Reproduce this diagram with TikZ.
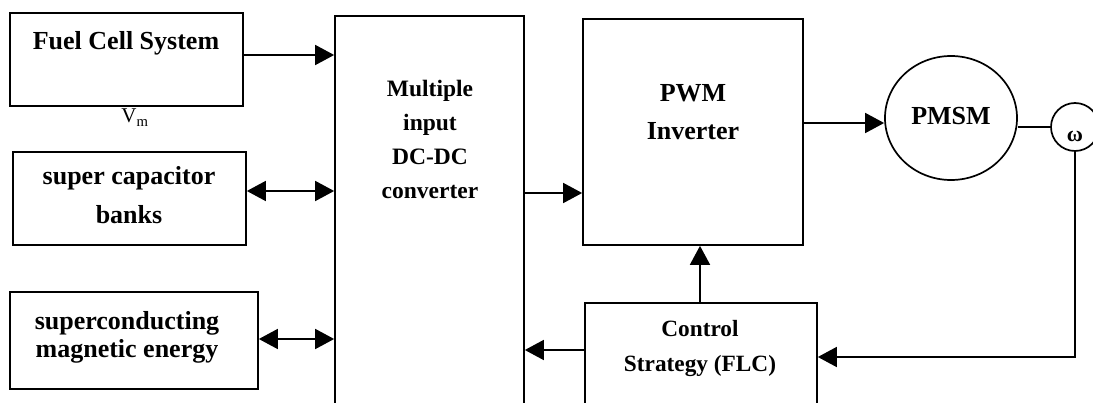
\documentclass[tikz,border=0pt]{standalone}
\usepackage{fontspec}
\setmainfont{Liberation Serif}
\usetikzlibrary{arrows.meta,shapes.geometric}
\begin{document}
\begin{tikzpicture}[x=1pt,y=-1pt,line width=1.7pt,
  box/.style={draw,rectangle,inner sep=0pt},
  lbl/.style n args={2}{font=\bfseries\fontsize{#1}{#2}\selectfont,align=center,anchor=base,inner sep=0pt},
  arr/.style={-{Triangle[length=19pt,width=20pt]}},
  darr/.style={{Triangle[length=19pt,width=20pt]}-{Triangle[length=19pt,width=20pt]}}]
\useasboundingbox (0,0) rectangle (1093,403);
\clip (0,0) rectangle (1093,403);
% boxes
\node[box,minimum width=233pt,minimum height=93pt] (fc) at (126.5,59.5) {};
\node[box,minimum width=233pt,minimum height=93pt] (sc) at (129.5,198.5) {};
\node[box,minimum width=248pt,minimum height=97pt] (sm) at (134,340.5) {};
\node[box,minimum width=189pt,minimum height=414pt] (dc) at (429.5,223) {};
\node[box,minimum width=220pt,minimum height=226pt] (pwm) at (693,132) {};
\node[box,minimum width=232pt,minimum height=127pt] (ctrl) at (701,366.5) {};
\node[draw,ellipse,inner sep=0pt,minimum width=132pt,minimum height=124pt] (pm) at (951,118) {};
\node[draw,circle,inner sep=0pt,minimum size=48pt] (om) at (1075,127) {};
% texts (anchor = baseline of last line)
\node[lbl={26}{30}] (fct) at (126,50) {Fuel Cell System};
\node[lbl={26}{39}] (sct) at (129,224) {super capacitor\\banks};
\node[lbl={26}{28}] (smt) at (127,358) {superconducting\\magnetic energy};
\node[lbl={23.5}{34}] (dct) at (430,199) {Multiple\\input\\DC-DC\\converter};
\node[lbl={26}{38}] (pwmt) at (693,140) {PWM\\Inverter};
\node[lbl={26}{30}] (pmt) at (951,125) {PMSM};
\node[lbl={23.3}{35}] (ctt) at (700,372) {Control\\Strategy (FLC)};
\node[lbl={22}{26}] (omt) at (1075,142) {ω};
\node[font=\fontsize{21}{24}\selectfont,anchor=base,inner sep=0pt] (vm) at (135,123) {V\textsubscript{m}};
% connectors
\draw[arr] (fc.east |- 0,55) -- (dc.west |- 0,55);
\draw[darr] (sc.east |- 0,191) -- (dc.west |- 0,191);
\draw[darr] (sm.east |- 0,339) -- (dc.west |- 0,339);
\draw[arr] (dc.east |- 0,193) -- (pwm.west |- 0,193);
\draw[arr] (pwm.east |- 0,123) -- (pm.west |- 0,123);
\draw (pm.east |- om.west) -- (om.west);
\draw[arr] (om.south) -- (om.south |- 0,357) -- (ctrl.east |- 0,357);
\draw[arr] (ctrl.north -| 700,0) -- (pwm.south -| 700,0);
\draw[arr] (ctrl.west |- 0,350) -- (dc.east |- 0,350);
\end{tikzpicture}
\end{document}
